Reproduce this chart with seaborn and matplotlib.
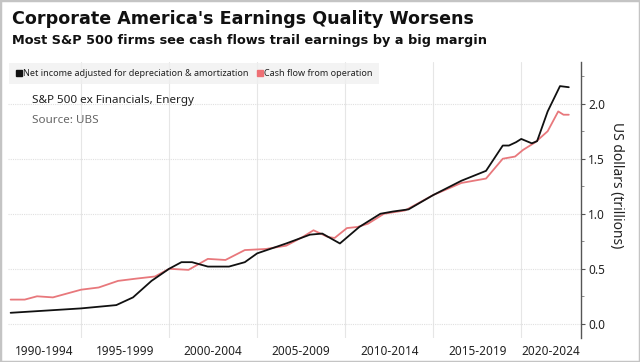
import matplotlib
matplotlib.use("Agg")
import matplotlib.pyplot as plt
from matplotlib.patches import Rectangle
from matplotlib.lines import Line2D
from matplotlib.ticker import FixedLocator, MultipleLocator
import pandas as pd
import seaborn as sns

# net income adjusted for D&A (trillions)
ni_year = [1991.0, 1995.0, 1997.0, 1997.95, 1999.0, 2000.0, 2000.7, 2001.3, 2002.2, 2003.4,
           2004.3, 2005.0, 2006.65, 2008.0, 2008.7, 2009.7, 2010.8, 2012.0, 2012.7, 2013.6,
           2015.0, 2016.6, 2018.0, 2018.95, 2019.3, 2019.7, 2020.0, 2020.6, 2020.9, 2021.5,
           2022.2, 2022.7]
ni_val = [0.10, 0.14, 0.17, 0.24, 0.39, 0.50, 0.56, 0.56, 0.52, 0.52,
          0.56, 0.64, 0.73, 0.81, 0.82, 0.73, 0.88, 1.00, 1.02, 1.04,
          1.17, 1.30, 1.39, 1.62, 1.62, 1.65, 1.68, 1.64, 1.66, 1.93,
          2.16, 2.15]

# cash flow from operation (trillions)
cf_year = [1991.0, 1991.8, 1992.5, 1993.4, 1995.0, 1996.0, 1997.1, 1998.1, 1999.2, 2000.0,
           2001.1, 2002.2, 2003.2, 2004.3, 2005.5, 2006.65, 2007.6, 2008.2, 2009.0, 2009.4,
           2010.1, 2010.7, 2011.3, 2012.2, 2013.4, 2015.0, 2016.6, 2018.0, 2018.95, 2019.65,
           2020.1, 2020.8, 2021.5, 2022.1, 2022.4, 2022.7]
cf_val = [0.22, 0.22, 0.25, 0.24, 0.31, 0.33, 0.39, 0.41, 0.43, 0.50,
          0.49, 0.59, 0.58, 0.67, 0.68, 0.71, 0.79, 0.85, 0.79, 0.78,
          0.87, 0.88, 0.91, 1.00, 1.03, 1.17, 1.28, 1.32, 1.50, 1.52,
          1.58, 1.65, 1.75, 1.93, 1.90, 1.90]

periods = ["1990-1994", "1995-1999", "2000-2004", "2005-2009", "2010-2014", "2015-2019", "2020-2024"]

ni_name = "Net income adjusted for depreciation & amortization"
cf_name = "Cash flow from operation"
df = pd.concat([
    pd.DataFrame({"year": ni_year, "value": ni_val, "series": ni_name}),
    pd.DataFrame({"year": cf_year, "value": cf_val, "series": cf_name}),
])

sns.set_style("white")
plt.rcParams["font.family"] = ["Noto Sans", "DejaVu Sans"]

fig = plt.figure(figsize=(6.4, 3.62), dpi=100)
ax = fig.add_axes([0.0125, 0.066, 0.8955, 0.763])

colors = {ni_name: "#111111", cf_name: "#e8787c"}
sns.lineplot(data=df, x="year", y="value", hue="series", palette=colors,
             estimator=None, sort=False, linewidth=1.3, ax=ax, legend=False)
# black on top
ax.lines[0].set_zorder(4)

x0, x1 = 1990.85, 2023.4
ax.set_xlim(x0, x1)
ax.set_ylim(-0.13, 2.38)

# y axis on right
ax.yaxis.tick_right()
ax.yaxis.set_label_position("right")
ax.set_yticks([0.0, 0.5, 1.0, 1.5, 2.0])
ax.set_yticklabels(["0.0", "0.5", "1.0", "1.5", "2.0"])
ax.yaxis.set_minor_locator(MultipleLocator(0.25))
ax.tick_params(axis="y", which="major", length=3, width=0.8, color="#555555",
               labelsize=8.5, labelcolor="#222222", pad=2, direction="out")
ax.tick_params(axis="y", which="minor", length=2, width=0.6, color="#777777")
ax.set_ylabel("US dollars (trillions)", rotation=270, fontsize=10, color="#222222")
ax.yaxis.set_label_coords(1.075, 0.555)

# x axis: boundaries as major grid, period labels centred in visible span
bounds = [1995, 2000, 2005, 2010, 2015, 2020]
edges = [x0] + bounds + [x1]
centers = [(edges[i] + edges[i + 1]) / 2 for i in range(len(periods))]
ax.xaxis.set_major_locator(FixedLocator(bounds))
ax.set_xticklabels([])
ax.xaxis.set_minor_locator(FixedLocator(centers))
ax.set_xticklabels(periods, minor=True)
ax.tick_params(axis="x", which="both", length=0, labelsize=8.5, labelcolor="#222222", pad=5)
ax.set_xlabel("")

ax.grid(axis="x", which="major", color="#e6e6e6", linewidth=0.8, linestyle="-")
ax.grid(axis="y", which="major", color="#e0e0e0", linewidth=0.8, linestyle=(0, (1, 1)))
ax.set_axisbelow(True)

for s in ["top", "left", "bottom"]:
    ax.spines[s].set_visible(False)
ax.spines["right"].set_color("#555555")
ax.spines["right"].set_linewidth(1.0)

# legend with square markers on light grey strip
handles = [Line2D([], [], marker="s", linestyle="none", color="#111111", markersize=5),
           Line2D([], [], marker="s", linestyle="none", color="#ee7075", markersize=5)]
leg = ax.legend(handles, [ni_name, cf_name], loc="upper left", bbox_to_anchor=(0.0, 1.0),
                ncol=2, fontsize=6.5, frameon=True, handletextpad=0.1, columnspacing=0.8,
                handlelength=0.8, borderpad=0.65, borderaxespad=0.15)
leg.get_frame().set_facecolor("#f0f0f0")
leg.get_frame().set_edgecolor("none")
leg.get_frame().set_boxstyle("square", pad=0.0)
for t in leg.get_texts():
    t.set_color("#222222")

ax.text(0.042, 0.86, "S&P 500 ex Financials, Energy", transform=ax.transAxes,
        fontsize=8.4, color="#222222", va="center")
ax.text(0.042, 0.787, "Source: UBS", transform=ax.transAxes,
        fontsize=8.4, color="#666666", va="center")

fig.text(0.018, 0.948, "Corporate America's Earnings Quality Worsens", fontsize=12.6,
         fontweight="bold", color="#111111", va="center", family="DejaVu Sans")
fig.text(0.018, 0.888, "Most S&P 500 firms see cash flows trail earnings by a big margin",
         fontsize=9.3, fontweight="bold", color="#111111", va="center", family="DejaVu Sans")

fig.patches.append(Rectangle((0, 0), 1, 1, transform=fig.transFigure, fill=False,
                             edgecolor="#c4c4c4", linewidth=2.5))

fig.savefig("out.png", dpi=100)
